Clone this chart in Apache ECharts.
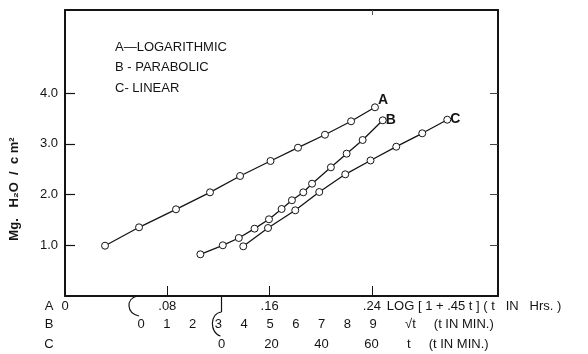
<!DOCTYPE html>
<html><head><meta charset="utf-8">
<script src="https://cdn.jsdelivr.net/npm/echarts@6/dist/echarts.min.js"></script>
<style>html,body{margin:0;padding:0;background:#fff}#c{width:588px;height:354px}</style>
</head><body><div id="c"></div>
<script>
// Curve A: x = LOG[1 + .45 t] (t in hrs), y = mg H2O / cm2
const aLog = [0.0313, 0.0579, 0.0868, 0.1134, 0.1369, 0.1607, 0.1822, 0.2033, 0.2237, 0.2424];
const aMg  = [0.992, 1.355, 1.710, 2.045, 2.367, 2.663, 2.925, 3.181, 3.446, 3.722];
// Curve B: x = sqrt(t) (t in min)
const bSqrtT = [2.30, 3.17, 3.79, 4.40, 4.96, 5.45, 5.85, 6.29, 6.63, 7.36, 7.97, 8.59, 9.37];
const bMg    = [0.822, 1.000, 1.144, 1.328, 1.513, 1.716, 1.888, 2.045, 2.215, 2.538, 2.807, 3.077, 3.465];
// Curve C: x = t (min)
const cT  = [8.7, 18.6, 29.5, 39.1, 49.5, 59.6, 69.9, 80.3, 90.3];
const cMg = [0.980, 1.341, 1.690, 2.051, 2.400, 2.673, 2.945, 3.209, 3.477];

const yTicks = [1, 2, 3, 4];
const yTickLabels = ['1.0', '2.0', '3.0', '4.0'];
const aTicks = [0, 0.08, 0.16, 0.24];
const aTickLabels = ['0', '.08', '.16', '.24'];
const bTicks = [0, 1, 2, 3, 4, 5, 6, 7, 8, 9];
const cTicks = [0, 20, 40, 60];
const legendLines = ['A\u2014LOGARITHMIC', 'B - PARABOLIC', 'C- LINEAR'];
const rowNames = ['A', 'B', 'C'];
const axisNames = ['LOG [ 1 + .45 t ] ( t   IN   Hrs. )', '\u221At     (t IN MIN.)', 't     (t IN MIN.)'];
const seriesNames = ['A', 'B', 'C'];

const INK = '#141414';
const FONT = 'Liberation Sans';
const chart = echarts.init(document.getElementById('c'), null, {renderer: 'canvas'});

function pairs(xs, ys) { return xs.map((x, i) => [x, ys[i]]); }

const lineSeries = (name, xs, ys, xi, offset) => ({
  name, type: 'line', xAxisIndex: xi, yAxisIndex: 0,
  data: pairs(xs, ys),
  symbol: 'circle', symbolSize: 7,
  itemStyle: {color: '#fff', borderColor: INK, borderWidth: 1},
  lineStyle: {color: INK, width: 1.3},
  animation: false,
  endLabel: {show: true, formatter: name, color: INK, fontFamily: FONT, fontSize: 14,
             fontWeight: 'bold', distance: 3, offset: offset}
});

const axisName = (txt, gap) => ({
  name: txt, nameLocation: 'end', nameGap: gap,
  nameTextStyle: {color: INK, fontFamily: FONT, fontSize: 13, lineHeight: 13, padding: [4, 0, 0, 0], verticalAlign: 'top'}
});

const option = {
  animation: false,
  grid: {left: 65, top: 10, right: 90, bottom: 58, show: false},
  xAxis: [
    Object.assign({
      type: 'value', position: 'bottom', min: 0, max: 0.3386,
      axisLine: {show: true, onZero: false, lineStyle: {color: INK, width: 2}},
      axisTick: {show: true, inside: true, length: 10, customValues: aTicks.slice(1), lineStyle: {color: INK, width: 1}},
      axisLabel: {customValues: aTicks, margin: 4, color: INK, fontFamily: FONT, fontSize: 13,
                  formatter: v => aTickLabels[aTicks.findIndex(t => Math.abs(t - v) < 1e-9)] || ''},
      splitLine: {show: false}
    }, axisName(axisNames[0], -114)),
    Object.assign({
      type: 'value', position: 'bottom', offset: 18, min: -2.946, max: 13.837,
      axisLine: {show: false, onZero: false}, axisTick: {show: false},
      axisLabel: {customValues: bTicks, margin: 4, color: INK, fontFamily: FONT, fontSize: 13},
      splitLine: {show: false}
    }, axisName(axisNames[1], -93)),
    Object.assign({
      type: 'value', position: 'bottom', offset: 38, min: -62.6, max: 110.6,
      axisLine: {show: false, onZero: false}, axisTick: {show: false},
      axisLabel: {customValues: cTicks, margin: 4, color: INK, fontFamily: FONT, fontSize: 13},
      splitLine: {show: false}
    }, axisName(axisNames[2], -91)),
    {
      type: 'value', position: 'top', min: 0, max: 0.3386,
      axisLine: {show: true, onZero: false, lineStyle: {color: INK, width: 2}},
      axisTick: {show: true, inside: true, length: 5, customValues: [0.24], lineStyle: {color: '#555'}},
      axisLabel: {show: false}, splitLine: {show: false}
    }
  ],
  yAxis: [
    {
      type: 'value', position: 'left', min: 0, max: 5.641,
      axisLine: {show: true, onZero: false, lineStyle: {color: INK, width: 2}},
      axisTick: {show: true, inside: true, length: 10, customValues: yTicks, lineStyle: {color: INK, width: 1.2}},
      axisLabel: {customValues: yTicks, margin: 7, color: INK, fontFamily: FONT, fontSize: 13,
                  formatter: v => yTickLabels[yTicks.indexOf(v)] || ''},
      splitLine: {show: false}
    },
    {
      type: 'value', position: 'right', min: 0, max: 5.641,
      axisLine: {show: true, onZero: false, lineStyle: {color: INK, width: 2}},
      axisTick: {show: true, inside: true, length: 8, customValues: yTicks, lineStyle: {color: '#444', width: 1}},
      axisLabel: {show: false}, splitLine: {show: false}
    }
  ],
  series: [
    lineSeries(seriesNames[0], aLog, aMg, 0, [0, -7]),
    lineSeries(seriesNames[1], bSqrtT, bMg, 1, [0, 0]),
    lineSeries(seriesNames[2], cT, cMg, 2, [0, -1])
  ]
};
chart.setOption(option);

// decorations computed from the axes
const b0 = chart.convertToPixel({xAxisIndex: 1}, 0);
const c0 = chart.convertToPixel({xAxisIndex: 2}, 0);
const yBase = chart.convertToPixel({yAxisIndex: 0}, 0);
const txt = (t, x, y, extra) => Object.assign({
  type: 'text', x, y,
  style: Object.assign({text: t, fill: INK, font: '13px "' + FONT + '"', textAlign: 'left', textVerticalAlign: 'middle'}, extra || {})
});
const stroke = {stroke: INK, lineWidth: 1.2, fill: null};
chart.setOption({
  graphic: [
    txt(legendLines[0], 115, 47.5),
    txt(legendLines[1], 115, 67.5),
    txt(legendLines[2], 115, 88),
    txt(rowNames[0], 49, 306.5, {textAlign: 'center'}),
    txt(rowNames[1], 49, 324.5, {textAlign: 'center'}),
    txt(rowNames[2], 49, 344.5, {textAlign: 'center'}),
    {type: 'text', x: 14, y: 189, rotation: Math.PI / 2,
     style: {text: 'Mg.   H\u2082O  /  c m\u00B2', fill: INK, font: 'bold 13px "' + FONT + '"',
             textAlign: 'center', textVerticalAlign: 'middle'}},
    {type: 'bezierCurve', shape: {x1: b0 - 4, y1: yBase, cpx1: b0 - 15, cpy1: yBase + 3, cpx2: b0 - 15, cpy2: yBase + 17, x2: b0 - 2, y2: yBase + 20}, style: stroke},
    {type: 'line', shape: {x1: c0, y1: yBase, x2: c0, y2: yBase + 16}, style: stroke},
    {type: 'bezierCurve', shape: {x1: c0, y1: yBase + 16, cpx1: c0 - 12, cpy1: yBase + 17, cpx2: c0 - 12, cpy2: yBase + 37, x2: c0 - 1, y2: yBase + 40}, style: stroke}
  ]
});
</script>
</body></html>
